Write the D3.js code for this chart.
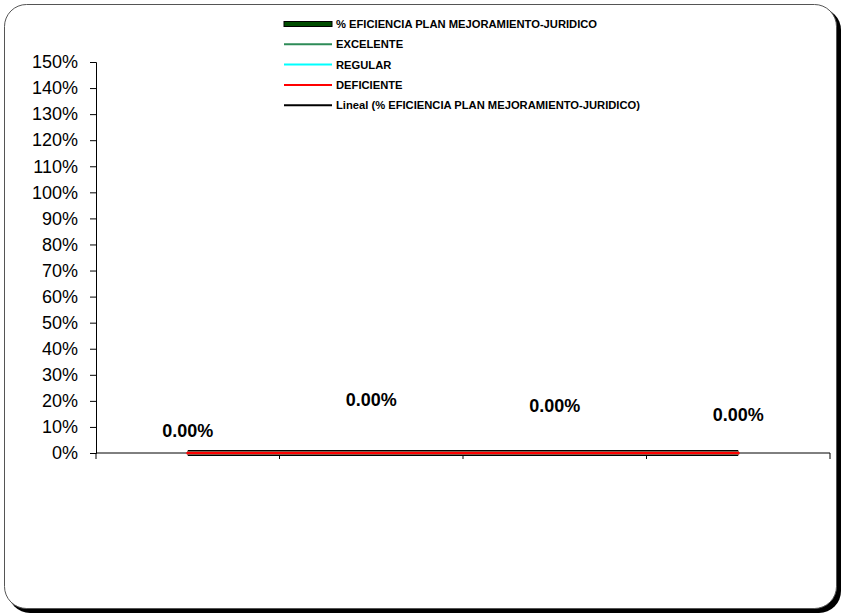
<!DOCTYPE html>
<html><head><meta charset="utf-8">
<script src="https://cdn.jsdelivr.net/npm/d3@7"></script>
<style>body{margin:0;background:#fff}svg{display:block}</style>
</head><body>
<svg id="c" width="843" height="616"></svg>
<script>
const categories = ["1", "2", "3", "4"];
const eficiencia = [0, 0, 0, 0];
const excelente = [0, 0, 0, 0];
const regular = [0, 0, 0, 0];
const deficiente = [0, 0, 0, 0];
const tendencia = [0, 0, 0, 0];
const yTicks = [0, 0.1, 0.2, 0.3, 0.4, 0.5, 0.6, 0.7, 0.8, 0.9, 1.0, 1.1, 1.2, 1.3, 1.4, 1.5];
const legendLabels = ["% EFICIENCIA PLAN MEJORAMIENTO-JURIDICO", "EXCELENTE", "REGULAR", "DEFICIENTE", "Lineal (% EFICIENCIA PLAN MEJORAMIENTO-JURIDICO)"];
const labelDy = [-16, -47, -41, -32];

const svg = d3.select("#c");
// frame with shadow
svg.append("rect").attr("x", 8).attr("y", 8).attr("width", 833).attr("height", 605).attr("rx", 22).attr("fill", "#000");
svg.append("rect").attr("x", 4.5).attr("y", 4.5).attr("width", 832).attr("height", 604).attr("rx", 22).attr("fill", "#fff").attr("stroke", "#555").attr("stroke-width", 1);

const x = d3.scaleBand().domain(categories).range([96, 830]).padding(0);
const y = d3.scaleLinear().domain([0, 1.5]).range([453, 62]);

const yAxis = d3.axisLeft(y).tickValues(yTicks).tickFormat(d3.format(".0%")).tickSize(6).tickPadding(12);
const gy = svg.append("g").attr("transform", "translate(96,0)").call(yAxis);
gy.select(".domain").attr("stroke", "#000");
gy.selectAll(".tick line").attr("stroke", "#000");
gy.selectAll("text").attr("font-family", "Liberation Sans, Arial, sans-serif").attr("font-size", 18).attr("fill", "#000");

// x axis
const gx = svg.append("g").attr("transform", "translate(0,453)");
gx.append("line").attr("x1", 96).attr("x2", 830).attr("y1", 0).attr("y2", 0).attr("stroke", "#000");
const bounds = categories.map(c => x(c)).concat([x(categories[categories.length - 1]) + x.bandwidth()]);
gx.selectAll("line.t").data(bounds).join("line").attr("class", "t")
  .attr("x1", d => d).attr("x2", d => d).attr("y1", 0).attr("y2", 6).attr("stroke", "#000");

const cx = c => x(c) + x.bandwidth() / 2;
const line = d3.line().x((d, i) => cx(categories[i])).y(d => y(d));

svg.append("path").datum(eficiencia).attr("d", line).attr("fill", "none").attr("stroke", "#000").attr("stroke-width", 6);
svg.append("path").datum(eficiencia).attr("d", line).attr("fill", "none").attr("stroke", "#004d00").attr("stroke-width", 4);
svg.append("path").datum(excelente).attr("d", line).attr("fill", "none").attr("stroke", "#2e8b57").attr("stroke-width", 3);
svg.append("path").datum(regular).attr("d", line).attr("fill", "none").attr("stroke", "#00ffff").attr("stroke-width", 3);
svg.append("path").datum(tendencia).attr("d", line).attr("fill", "none").attr("stroke", "#000").attr("stroke-width", 2);
svg.append("path").datum(deficiente).attr("d", line).attr("fill", "none").attr("stroke", "#ff0000").attr("stroke-width", 3).attr("stroke-linecap", "round");

// data labels
svg.selectAll("text.lbl").data(eficiencia).join("text").attr("class", "lbl")
  .attr("x", (d, i) => cx(categories[i]))
  .attr("y", (d, i) => y(d) + labelDy[i])
  .attr("text-anchor", "middle")
  .attr("font-family", "Liberation Sans, Arial, sans-serif").attr("font-weight", "bold").attr("font-size", 18)
  .text(d => d3.format(".2%")(d));

// legend
const legStyles = [
  {c: "#004d00", w: 4, border: true},
  {c: "#2e8b57", w: 2},
  {c: "#00ffff", w: 2},
  {c: "#ff0000", w: 2},
  {c: "#000", w: 2}
];
const lg = svg.append("g");
legendLabels.forEach((t, i) => {
  const yy = 24 + i * 20.3;
  const s = legStyles[i];
  if (s.border) lg.append("rect").attr("x", 284).attr("y", yy - 2.5).attr("width", 48).attr("height", 5).attr("fill", s.c).attr("stroke", "#000").attr("stroke-width", 1);
  else lg.append("line").attr("x1", 284).attr("x2", 332).attr("y1", yy).attr("y2", yy).attr("stroke", s.c).attr("stroke-width", s.w);
  lg.append("text").attr("x", 336).attr("y", yy + 4).attr("font-family", "Liberation Sans, Arial, sans-serif")
    .attr("font-weight", "bold").attr("font-size", 11.2).attr("fill", "#000").text(t);
});
</script>
</body></html>
